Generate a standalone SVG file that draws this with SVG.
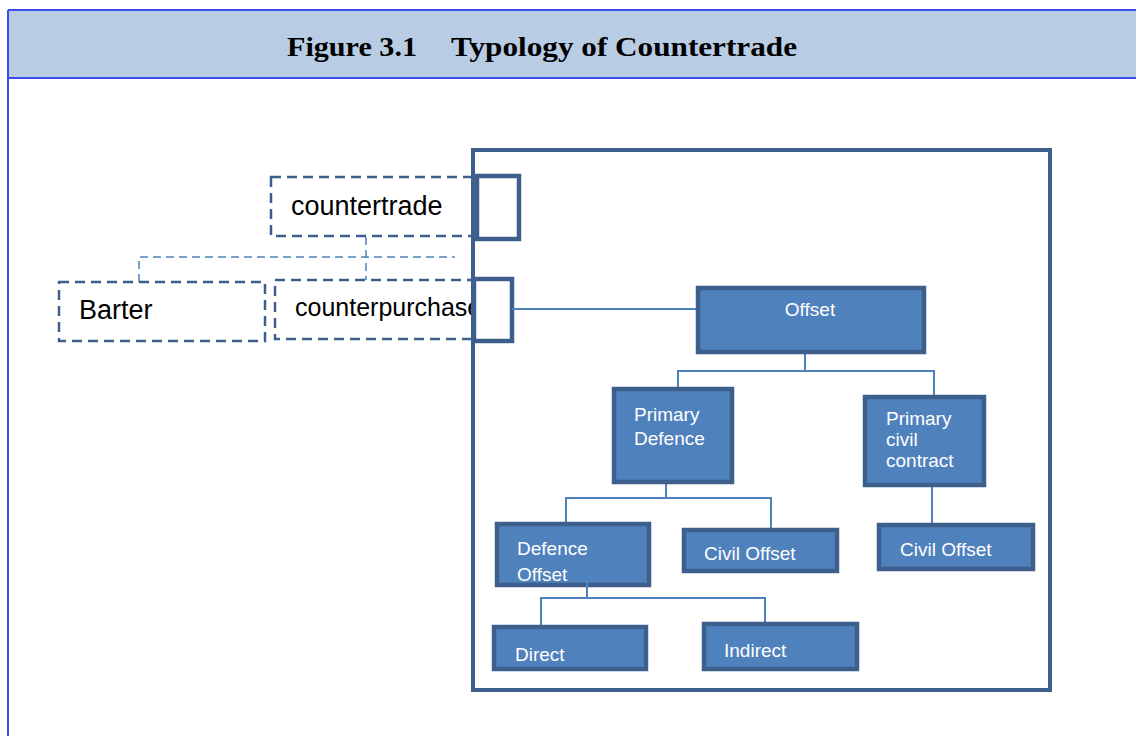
<svg xmlns="http://www.w3.org/2000/svg" width="1136" height="736" viewBox="0 0 1136 736">
<style>
.frame{fill:none;stroke:#3a4df0;stroke-width:2}
.title{font-family:"Liberation Serif",serif;font-weight:bold;font-size:28px;fill:#000}
.dbox{fill:#fff;stroke:#3d5f8d;stroke-width:2.5;stroke-dasharray:10 6}
.dline{fill:none;stroke:#4f81bd;stroke-width:1.5;stroke-dasharray:8 5}
.big{fill:none;stroke:#3c5f8c;stroke-width:4}
.sbox{fill:#fff;stroke:#3c5f8c;stroke-width:4.5}
.node{fill:#4f81bd;stroke:#3c5f8c;stroke-width:4.5}
.conn{fill:none;stroke:#4f81bd;stroke-width:2}
.lt{font-family:"Liberation Sans",Arial,sans-serif;fill:#000}
.nt{font-family:"Liberation Sans",Arial,sans-serif;font-size:19px;fill:#fff}
</style>
<rect x="0" y="0" width="1136" height="736" fill="#fff"/>
<g id="header">
<rect x="8" y="10" width="1140" height="68" fill="#b8cce4"/>
<line class="frame" x1="8" y1="10" x2="1136" y2="10"/>
<line class="frame" x1="8" y1="78" x2="1136" y2="78"/>
<line class="frame" x1="8" y1="10" x2="8" y2="736"/>
<text class="title" x="287" y="56" textLength="130" lengthAdjust="spacingAndGlyphs">Figure 3.1</text>
<text class="title" x="451" y="56" textLength="346" lengthAdjust="spacingAndGlyphs">Typology of Countertrade</text>
</g>
<g id="dashed-connectors">
<path class="dline" d="M366 237 V280"/>
<path class="dline" d="M139 282 V257 H455"/>
</g>
<g id="countertrade">
<rect class="dbox" x="271" y="177" width="210" height="59"/>
<text class="lt" x="291" y="215" font-size="27">countertrade</text>
</g>
<g id="barter">
<rect class="dbox" x="59" y="282" width="206" height="59"/>
<text class="lt" x="79" y="319" font-size="27">Barter</text>
</g>
<g id="counterpurchase">
<rect class="dbox" x="275" y="280" width="205" height="59"/>
<text class="lt" x="295" y="316" font-size="25">counterpurchase</text>
</g>
<g id="big-frame">
<rect class="big" x="473" y="150" width="577" height="540"/>
</g>
<g id="small-box-1">
<rect class="sbox" x="477" y="176" width="42" height="63"/>
</g>
<g id="small-box-2">
<rect class="sbox" x="474" y="279" width="38" height="62"/>
</g>
<g id="connectors">
<path class="conn" d="M512 309 H697"/>
<path class="conn" d="M805 352 V371"/>
<path class="conn" d="M678 389 V371 H934 V397"/>
<path class="conn" d="M666 482 V498"/>
<path class="conn" d="M566 524 V498 H771 V530"/>
<path class="conn" d="M932 485 V525"/>
<path class="conn" d="M541 627 V598 H765 V624"/>
</g>
<g id="offset">
<rect class="node" x="698" y="288" width="226" height="64"/>
<text class="nt" x="810" y="316" text-anchor="middle">Offset</text>
</g>
<g id="primary-defence">
<rect class="node" x="614" y="389" width="118" height="93"/>
<text class="nt" x="634" y="421">Primary</text>
<text class="nt" x="634" y="445">Defence</text>
</g>
<g id="primary-civil">
<rect class="node" x="865" y="397" width="119" height="88"/>
<text class="nt" x="886" y="425">Primary</text>
<text class="nt" x="886" y="446">civil</text>
<text class="nt" x="886" y="467">contract</text>
</g>
<g id="defence-offset">
<rect class="node" x="497" y="524" width="152" height="61"/>
<text class="nt" x="517" y="555">Defence</text>
<text class="nt" x="517" y="581">Offset</text>
<path class="conn" d="M587 573 V598"/>
</g>
<g id="civil-offset-1">
<rect class="node" x="684" y="530" width="153" height="41"/>
<text class="nt" x="704" y="560">Civil Offset</text>
</g>
<g id="civil-offset-2">
<rect class="node" x="879" y="525" width="154" height="44"/>
<text class="nt" x="900" y="556">Civil Offset</text>
</g>
<g id="direct">
<rect class="node" x="494" y="627" width="152" height="42"/>
<text class="nt" x="515" y="661">Direct</text>
</g>
<g id="indirect">
<rect class="node" x="704" y="624" width="153" height="45"/>
<text class="nt" x="724" y="657">Indirect</text>
</g>
</svg>
